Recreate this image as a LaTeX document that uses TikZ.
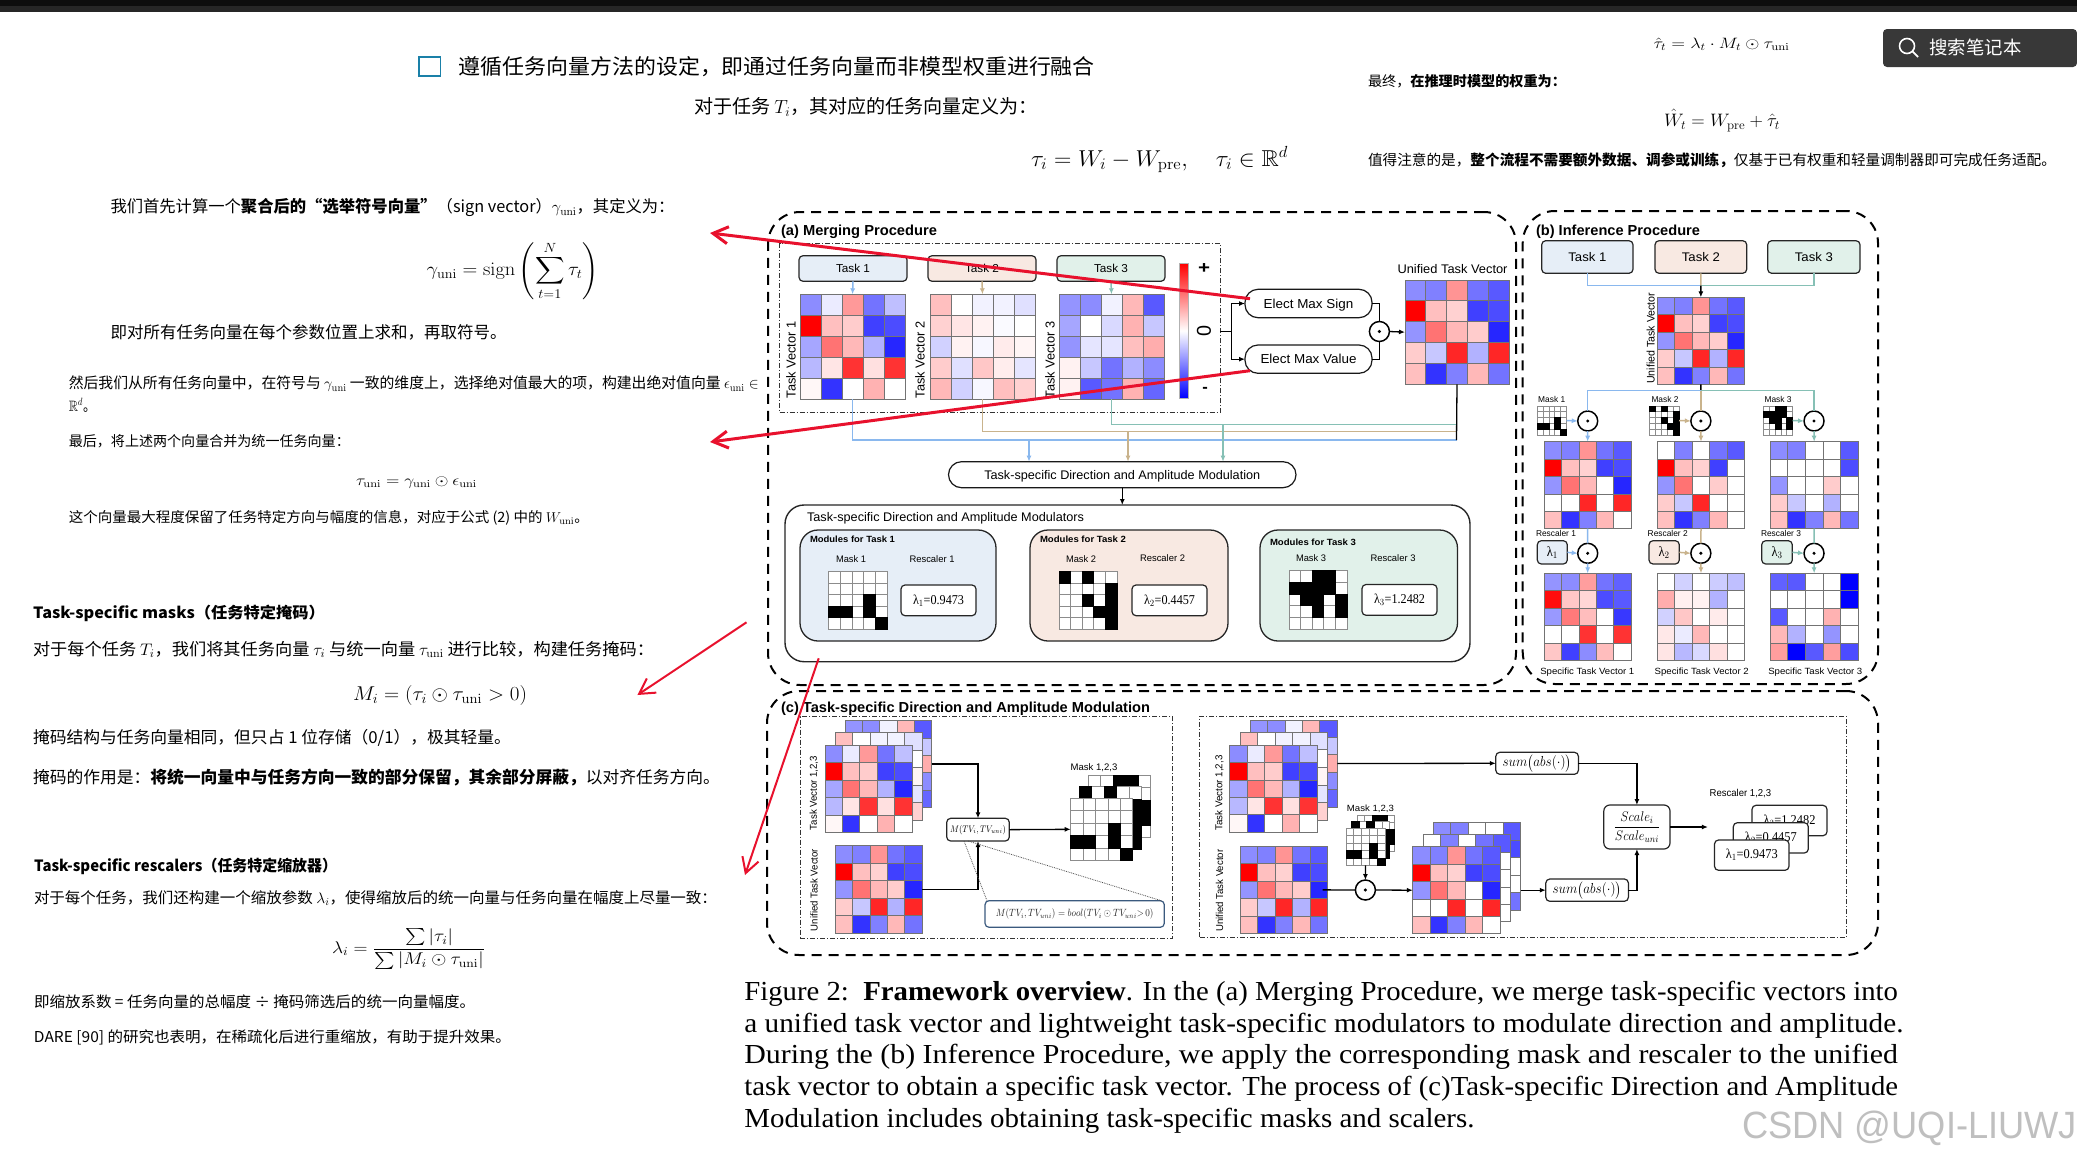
\RequirePackage{fix-cm}
\documentclass[tikz,border=0pt]{standalone}
\usepackage{amsmath,amssymb}
\usepackage[no-math]{fontspec}
\usetikzlibrary{arrows.meta,calc}
\newfontfamily\cj{Noto Sans CJK SC}
\newfontfamily\ar{Liberation Sans}
\newfontfamily\ser{Liberation Serif}
\newsavebox\tbx
\newcommand\fitb[3]{\sbox\tbx{\fontsize{#2}{#2}\selectfont #3}\pgfmathsetmacro\rw{#1/(\wd\tbx)}\scalebox{\rw}[1]{\usebox\tbx}}
% left-anchored text: name,x,ycentre,size,width,content
\newcommand\tx[6]{\pgfmathsetmacro\by{#3+0.36*#4}\node[anchor=base west,inner sep=0pt,outer sep=0pt] (#1) at (#2,\by) {\fitb{#5}{#4}{#6}};}
% centred text
\newcommand\tc[7][]{\node[inner sep=0pt,outer sep=0pt,#1] (#2) at (#3,#4) {\fitb{#6}{#5}{#7}};}
% box: name,x1,y1,x2,y2,style,text
\newcommand\bx[7]{\pgfmathsetmacro\cxx{(#2+#4)/2}\pgfmathsetmacro\cyy{(#3+#5)/2}\pgfmathsetmacro\ww{#4-#2}\pgfmathsetmacro\hh{#5-#3}\node[inner sep=0pt,outer sep=0pt,minimum width=\ww pt,minimum height=\hh pt,#6] (#1) at (\cxx,\cyy) {#7};}
% heat map
\newcommand\hm[6]{\pgfmathsetmacro\cw{(#4-#2)/5}\pgfmathsetmacro\ch{(#5-#3)/5}%
\foreach \v [count=\i from 0] in #6 {\pgfmathtruncatemacro\cc{mod(\i,5)}\pgfmathtruncatemacro\rr{\i/5}\pgfmathtruncatemacro\av{abs(\v)}%
\ifnum\v<0 \def\col{blue!\av!white}\else\def\col{red!\av!white}\fi
\draw[cellst,fill=\col] (#2+\cc*\cw,#3+\rr*\ch) rectangle ++(\cw,\ch);}%
\bx{#1}{#2}{#3}{#4}{#5}{}{}}
% binary mask: grid first, black cells on top
\newcommand\mk[6]{\pgfmathsetmacro\cw{(#4-#2)/5}\pgfmathsetmacro\ch{(#5-#3)/5}%
\foreach \v [count=\i from 0] in #6 {\pgfmathtruncatemacro\cc{mod(\i,5)}\pgfmathtruncatemacro\rr{\i/5}%
\draw[maskst,fill=white] (#2+\cc*\cw,#3+\rr*\ch) rectangle ++(\cw,\ch);}%
\foreach \v [count=\i from 0] in #6 {\pgfmathtruncatemacro\cc{mod(\i,5)}\pgfmathtruncatemacro\rr{\i/5}%
\ifnum\v=1 \draw[black,line width=0.7pt,fill=black] (#2+\cc*\cw,#3+\rr*\ch) rectangle ++(\cw,\ch);\fi}%
\bx{#1}{#2}{#3}{#4}{#5}{}{}}
\newcommand\od[3]{\node[opst] (#1) at (#2,#3) {}; \fill (#1.center) circle (1.7pt);}
\def\TVa{-45,-8,40,-55,-25,100,25,20,-75,-70,-35,55,28,-30,-85,-28,10,80,12,80,3,-80,0,30,0}
\def\TVb{25,0,-5,-5,-12,18,10,5,-2,0,-18,5,-3,8,4,20,-12,22,7,-10,28,-18,-3,25,18}
\def\TVc{-42,-45,-5,28,-65,-35,0,-15,30,-22,-42,-10,-10,25,32,5,-22,-55,-30,-45,5,-65,-55,30,-60}
\def\UV{-45,-50,42,-55,-65,100,25,18,-75,-70,-42,55,28,20,-85,20,-22,85,-30,85,25,-80,-50,28,-55}
\def\Sa{-45,-50,42,-55,-65,100,25,18,-75,-70,-42,55,28,0,-85,0,0,85,0,85,25,-80,-50,28,0}
\def\Sb{0,-50,0,-55,-65,100,25,18,-75,0,-42,55,0,20,0,20,-22,85,0,0,25,-80,-50,28,0}
\def\Sc{-45,-50,0,0,-65,0,0,0,0,-70,-42,0,0,20,0,20,-22,0,-30,0,25,-80,-50,28,-55}
\def\Fa{-42,-45,38,-55,-62,95,22,16,-70,-65,-40,52,26,0,-78,0,0,80,0,80,22,-75,-45,26,0}
\def\Fb{0,-18,0,-20,-25,32,6,5,-30,0,-18,22,0,8,0,9,-8,28,0,0,10,-28,-15,12,0}
\def\Fc{-62,-65,0,0,-100,0,0,0,0,-100,-65,0,0,30,0,28,-30,0,-42,0,38,-100,-65,38,-70}
\def\Ma{0,0,0,0,0,0,0,0,0,0,0,0,0,1,0,1,1,0,1,0,0,0,0,0,1}
\def\Mb{1,0,1,0,0,0,0,0,0,1,0,0,1,0,1,0,0,0,1,1,0,0,0,0,1}
\def\Mc{0,0,1,1,0,1,1,1,1,0,0,1,1,0,1,0,0,1,0,1,0,0,0,0,0}
\definecolor{cA}{HTML}{E6EEF7}\definecolor{cB}{HTML}{F8E9E2}\definecolor{cC}{HTML}{E1F1EA}
\definecolor{lA}{HTML}{8AB8EE}\definecolor{lB}{HTML}{C9B38C}\definecolor{lC}{HTML}{86C0B5}
\definecolor{redan}{HTML}{E8112D}\definecolor{darkb}{HTML}{3B5A7E}\definecolor{chk}{HTML}{1A80A8}
\tikzset{
 cellst/.style={draw=black!55,line width=0.8pt},
 maskst/.style={draw=black!45,line width=0.7pt},
 opst/.style={circle,draw=black,line width=1.5pt,minimum size=20pt,inner sep=0pt,outer sep=0pt,fill=white},
 outer/.style={draw=black,line width=2pt,dash pattern=on 10pt off 7pt,rounded corners=32pt},
 ddot/.style={draw=black!80,line width=1pt,dash pattern=on 5pt off 2pt on 1pt off 2pt},
 tbox/.style={draw=black!85,line width=1.2pt,rounded corners=4pt},
 pill/.style={draw=black!90,line width=1.2pt,rounded corners=13pt,fill=white,text depth=0pt},
 arr/.style={-{Latex[length=6pt,width=5pt]}},
 lnk/.style={draw=black,line width=1.3pt},
 lblue/.style={draw=lA,line width=1.5pt},
 ltan/.style={draw=lB,line width=1.5pt},
 lteal/.style={draw=lC,line width=1.5pt},
 redarr/.style={draw=redan,-{Straight Barb[length=15pt,width=17pt]}}
}
\begin{document}
\begin{tikzpicture}[x=1pt,y=-1pt]
\useasboundingbox (0,0) rectangle (2077,1159);
\fill[white] (0,0) rectangle (2077,1159);
% top bars
\fill[black!95] (0,0) rectangle (2077,6);
\fill[black!85] (0,6) rectangle (2077,12);
% search box
\bx{sb}{1883}{29}{2077}{67}{fill=black!78,rounded corners=4pt}{}
\draw[white,line width=1.6pt] (1907,46) circle (7.5pt);
\draw[white,line width=1.8pt] (1912.5,51.5) -- (1918,57);
\tx{stext}{1929.4}{47.5}{18.4}{92}{\cj\color{white}搜索笔记本}
% top texts
\bx{chkb}{419}{57}{440.5}{76}{draw=chk,line width=1.5pt}{}
\tx{t1}{458.8}{67}{21.2}{636}{\cj 遵循任务向量方法的设定，即通过任务向量而非模型权重进行融合}
\tx{t2}{694}{107}{19}{344}{\cj 对于任务 $T_i$，其对应的任务向量定义为：}
\tx{t3}{1031}{158}{23}{257}{$\tau_i = W_i - W_{\mathrm{pre}},\quad \tau_i\in\mathbb{R}^d$}
\tx{t4}{1653.5}{43}{15}{136}{$\hat\tau_t=\lambda_t\cdot M_t\odot\tau_{\mathrm{uni}}$}
\tx{t5}{1368}{81}{14}{198}{\cj 最终，\textbf{在推理时模型的权重为：}}
\tx{t6}{1664}{120}{18}{116}{$\hat W_t=W_{\mathrm{pre}}+\hat\tau_t$}
\tx{t7}{1368}{160}{14.6}{688}{\cj 值得注意的是，\textbf{整个流程不需要额外数据、调参或训练，}仅基于已有权重和轻量调制器即可完成任务适配。}
% left column
\tx{l1}{110.5}{207}{16.4}{564}{\cj 我们首先计算一个\textbf{聚合后的“选举符号向量”}（sign vector）$\gamma_{\mathrm{uni}}$，其定义为：}
\tx{l2}{426.6}{269}{19}{172}{$\displaystyle \gamma_{\mathrm{uni}}=\mathrm{sign}\left(\sum_{t=1}^{N}\tau_t\right)$}
\tx{l3}{110.5}{333}{16.5}{396}{\cj 即对所有任务向量在每个参数位置上求和，再取符号。}
\tx{l4}{68.8}{383.5}{15}{690}{\cj 然后我们从所有任务向量中，在符号与 $\gamma_{\mathrm{uni}}$ 一致的维度上，选择绝对值最大的项，构建出绝对值向量 $\epsilon_{\mathrm{uni}}\in$}
\tx{l5}{68.8}{406}{15}{27}{\cj $\mathbb{R}^d$。}
\tx{l6}{68.8}{441}{14.2}{281}{\cj 最后，将上述两个向量合并为统一任务向量：}
\tx{l7}{356}{480}{15}{121}{$\tau_{\mathrm{uni}}=\gamma_{\mathrm{uni}}\odot\epsilon_{\mathrm{uni}}$}
\tx{l8}{68.8}{517}{14.2}{520}{\cj 这个向量最大程度保留了任务特定方向与幅度的信息，对应于公式 (2) 中的 $W_{\mathrm{uni}}$。}
\tx{m1}{33}{613}{15.5}{292}{\cj\textbf{Task-specific masks（任务特定掩码）}}
\tx{m2}{33}{649}{16.7}{621}{\cj 对于每个任务 $T_i$，我们将其任务向量 $\tau_i$ 与统一向量 $\tau_{\mathrm{uni}}$ 进行比较，构建任务掩码：}
\tx{m3}{353}{693}{20}{174}{$M_i=(\tau_i\odot\tau_{\mathrm{uni}}>0)$}
\tx{m4}{33}{738}{16.5}{478}{\cj 掩码结构与任务向量相同，但只占 1 位存储（0/1），极其轻量。}
\tx{m5}{33}{777}{16.7}{687}{\cj 掩码的作用是：\textbf{将统一向量中与任务方向一致的部分保留，其余部分屏蔽，}以对齐任务方向。}
\tx{m6}{34}{866}{15.5}{303}{\cj\textbf{Task-specific rescalers（任务特定缩放器）}}
\tx{m7}{34}{898}{15.2}{683}{\cj 对于每个任务，我们还构建一个缩放参数 $\lambda_i$，使得缩放后的统一向量与任务向量在幅度上尽量一致：}
\tx{m8}{332}{947}{17}{153}{$\displaystyle \lambda_i=\frac{\sum|\tau_i|}{\sum|M_i\odot\tau_{\mathrm{uni}}|}$}
\tx{m9}{34}{1002}{15}{441}{\cj 即缩放系数 = 任务向量的总幅度 ÷ 掩码筛选后的统一向量幅度。}
\tx{m10}{34}{1037.5}{15}{477}{\cj DARE [90] 的研究也表明，在稀疏化后进行重缩放，有助于提升效果。}
% ---------- (a)
\bx{pa}{768}{212}{1516}{685}{outer}{}
\tx{ta}{781}{230}{14.5}{156}{\ar\textbf{(a) Merging Procedure}}
\bx{ra}{779.5}{243.3}{1220}{412.7}{ddot}{}
\bx{ta1}{799}{255.7}{907}{281.3}{tbox,fill=cA}{\fitb{34}{11.5}{\ar Task 1}}
\bx{ta2}{928}{255.7}{1036}{281.3}{tbox,fill=cB}{\fitb{34}{11.5}{\ar Task 2}}
\bx{ta3}{1057}{255.7}{1165}{281.3}{tbox,fill=cC}{\fitb{34}{11.5}{\ar Task 3}}
\hm{va1}{800}{294.3}{905}{399.3}{\TVa}
\hm{va2}{930}{294.3}{1035}{399.3}{\TVb}
\hm{va3}{1059}{294.3}{1164}{399.3}{\TVc}
\tc[rotate=90]{la1}{791}{360}{13}{76.7}{\ar Task Vector 1}
\tc[rotate=90]{la2}{920}{360}{13}{76.7}{\ar Task Vector 2}
\tc[rotate=90]{la3}{1050}{360}{13}{76.7}{\ar Task Vector 3}
\draw[lblue,arr] (ta1.south) -- (va1.north);
\draw[ltan,arr] (ta2.south) -- (va2.north);
\draw[lteal,arr] (ta3.south) -- (va3.north);
\bx{cbar}{1179}{263.3}{1188}{398.3}{top color=red,bottom color=blue,middle color=white,draw=black!30,line width=0.4pt}{}
\tc{cp}{1204}{269}{17}{12}{\ar\textbf{+}}
\tc[rotate=90]{cz}{1204}{331}{20}{11}{\ar 0}
\tc{cm0}{1205}{390}{16}{5.5}{\ar\textbf{-}}
\bx{es}{1245}{289.3}{1372}{317.7}{pill}{\fitb{89.6}{13}{\ar Elect Max Sign}}
\bx{ev}{1245}{345}{1372}{373.3}{pill}{\fitb{96}{13}{\ar Elect Max Value}}
\od{oa}{1379.4}{331.5}
\hm{ua}{1405}{280}{1509}{384.3}{\UV}
\tc{lu}{1452.5}{269}{12.5}{110}{\ar Unified Task Vector}
\coordinate (ftail) at (1220,331.3);
\coordinate (fork) at (1231.6,331.3);
\draw[lnk] (ftail) -- (fork);
\draw[lnk,arr] (fork) |- (es.west);
\draw[lnk,arr] (fork) |- (ev.west);
\draw[lnk] (es.east) -| (oa.north);
\draw[lnk] (ev.east) -| (oa.south);
\draw[lnk,arr] (oa.east) -- (ua.west);
\bx{mo}{948.5}{461.7}{1296}{487.7}{pill}{\fitb{276}{12.5}{\ar Task-specific Direction and Amplitude Modulation}}
\coordinate (cb) at (1456.5,440);
\coordinate (ct) at (1456.5,431.7);
\coordinate (cg) at (1456.5,424.3);
\coordinate (db) at (1029,440);
\coordinate (dt) at (1128,431.7);
\coordinate (dg) at (1223,424.3);
\draw[lblue] (va1.south) |- (cb);
\draw[ltan] (va2.south) |- (ct);
\draw[lteal] (va3.south) |- (cg);
\draw[lblue,arr] (db) -- (db |- mo.north);
\draw[ltan,arr] (dt) -- (dt |- mo.north);
\draw[lteal,arr] (dg) -- (dg |- mo.north);
\draw[lnk] (ua.south) -- (cb);
\bx{mb}{785}{505}{1470}{661.7}{draw=black!85,line width=1.4pt,rounded corners=19pt}{}
\draw[lnk,arr] (mo.south) -- (mb.north -| mo.south);
\tx{mbt}{807}{516.5}{12.5}{277}{\ar Task-specific Direction and Amplitude Modulators}
\bx{b1}{800}{530}{996}{641}{draw=black!85,line width=1.3pt,rounded corners=18pt,fill=cA}{}
\bx{b2}{1030}{530}{1228}{641}{draw=black!85,line width=1.3pt,rounded corners=18pt,fill=cB}{}
\bx{b3}{1260}{530}{1457.5}{641}{draw=black!85,line width=1.3pt,rounded corners=18pt,fill=cC}{}
\tx{b1t}{810}{539}{9}{85}{\ar\textbf{Modules for Task 1}}
\tx{b2t}{1040}{539}{9}{86}{\ar\textbf{Modules for Task 2}}
\tx{b3t}{1270}{542}{9}{86}{\ar\textbf{Modules for Task 3}}
\tc{b1m}{851}{559}{9.5}{30}{\ar Mask 1}
\tc{b1r}{932}{559}{9.5}{45}{\ar Rescaler 1}
\tc{b2m}{1081}{559}{9.5}{30}{\ar Mask 2}
\tc{b2r}{1162.5}{557.7}{9.5}{45}{\ar Rescaler 2}
\tc{b3m}{1311}{558}{9.5}{30}{\ar Mask 3}
\tc{b3r}{1393}{558}{9.5}{45}{\ar Rescaler 3}
\mk{k1}{828.7}{571.7}{887}{629.3}{\Ma}
\mk{k2}{1059}{571.7}{1117}{629.3}{\Mb}
\mk{k3}{1289}{570.7}{1347}{629}{\Mc}
\bx{q1}{901}{585}{976}{615.7}{tbox,fill=white}{\fitb{51}{13.5}{\ser λ$_1$=0.9473}}
\bx{q2}{1132}{585}{1207}{615.7}{tbox,fill=white}{\fitb{51}{13.5}{\ser λ$_2$=0.4457}}
\bx{q3}{1362}{584.5}{1437}{615.3}{tbox,fill=white}{\fitb{51}{13.5}{\ser λ$_3$=1.2482}}
% ---------- (b)
\bx{pb}{1522.7}{211}{1878}{684}{outer}{}
\tx{tb}{1536}{230}{14.5}{164}{\ar\textbf{(b) Inference Procedure}}
\bx{bt1}{1541.7}{240.7}{1633}{273.3}{tbox,fill=cA}{\fitb{38}{12.5}{\ar Task 1}}
\bx{bt2}{1655}{240.7}{1746.7}{273.3}{tbox,fill=cB}{\fitb{38}{12.5}{\ar Task 2}}
\bx{bt3}{1767.7}{240.7}{1860}{273.3}{tbox,fill=cC}{\fitb{38}{12.5}{\ar Task 3}}
\hm{bu}{1657}{297.3}{1744.7}{384.3}{\UV}
\tc[rotate=90]{blu}{1650.7}{338.3}{11}{91}{\ar Unified Task Vector}
\coordinate (bj) at (1700.85,285.7);
\coordinate (bk) at (1700.85,390.7);
\draw[lblue] (bt1.south) |- (bj);
\draw[lteal] (bt3.south) |- (bj);
\draw[ltan] (bt2.south) -- (bj);
\draw[lnk,arr] (bj) -- (bu.north);
\draw[lnk] (bu.south) -- (bk);
\od{bo1}{1587.7}{421}
\od{bo2}{1700.85}{421}
\od{bo3}{1814}{421}
\draw[lblue] (bk) -| (bo1.north);
\draw[lteal] (bk) -| (bo3.north);
\draw[ltan] (bk) -- (bo2.north);
\mk{bm1}{1537}{406}{1566.7}{435}{\Ma}
\mk{bm2}{1649.7}{406}{1679}{435}{\Mb}
\mk{bm3}{1763.3}{406}{1792.7}{435}{\Mc}
\tc{bml1}{1551.7}{399.3}{8.5}{27}{\ar Mask 1}
\tc{bml2}{1665}{399.3}{8.5}{27}{\ar Mask 2}
\tc{bml3}{1778}{399.3}{8.5}{27}{\ar Mask 3}
\draw[lblue,arr] (bm1.east) -- (bo1.west);
\draw[ltan,arr] (bm2.east) -- (bo2.west);
\draw[lteal,arr] (bm3.east) -- (bo3.west);
\hm{bs1}{1544}{441.7}{1631.3}{528.7}{\Sa}
\hm{bs2}{1657.3}{441.7}{1744.7}{528.7}{\Sb}
\hm{bs3}{1770.3}{441.7}{1858}{528.7}{\Sc}
\draw[lblue,arr] (bo1.south) -- (bs1.north);
\draw[ltan,arr] (bo2.south) -- (bs2.north);
\draw[lteal,arr] (bo3.south) -- (bs3.north);
\od{br1}{1587.7}{553.3}
\od{br2}{1700.85}{553.3}
\od{br3}{1814}{553.3}
\draw[lblue] (bs1.south) -- (br1.north);
\draw[ltan] (bs2.south) -- (br2.north);
\draw[lteal] (bs3.south) -- (br3.north);
\tc{brl1}{1556}{533.7}{8.5}{40}{\ar Rescaler 1}
\tc{brl2}{1667.7}{533.7}{8.5}{40}{\ar Rescaler 2}
\tc{brl3}{1781}{533.7}{8.5}{40}{\ar Rescaler 3}
\bx{bl1}{1537.3}{540.7}{1567.3}{564}{tbox,fill=cA}{\fitb{11}{14}{\ser λ$_1$}}
\bx{bl2}{1649}{540.7}{1679.3}{564}{tbox,fill=cB}{\fitb{11}{14}{\ser λ$_2$}}
\bx{bl3}{1761.7}{540.7}{1792.3}{564}{tbox,fill=cC}{\fitb{11}{14}{\ser λ$_3$}}
\draw[lblue,arr] (bl1.east) -- (br1.west);
\draw[ltan,arr] (bl2.east) -- (br2.west);
\draw[lteal,arr] (bl3.east) -- (br3.west);
\hm{bf1}{1544}{573.3}{1631.3}{660.3}{\Fa}
\hm{bf2}{1657.3}{573.3}{1744.7}{660.3}{\Fb}
\hm{bf3}{1770.3}{573.3}{1858}{660.3}{\Fc}
\draw[lblue,arr] (br1.south) -- (bf1.north);
\draw[ltan,arr] (br2.south) -- (bf2.north);
\draw[lteal,arr] (br3.south) -- (bf3.north);
\tc{bsl1}{1587.3}{672}{9}{94}{\ar Specific Task Vector 1}
\tc{bsl2}{1701.7}{672}{9}{94}{\ar Specific Task Vector 2}
\tc{bsl3}{1815.3}{672}{9}{94}{\ar Specific Task Vector 3}
% ---------- (c)
\bx{pc}{767}{691}{1878}{955}{outer}{}
\tx{tc1}{781}{707}{14.5}{369}{\ar\textbf{(c) Task-specific Direction and Amplitude Modulation}}
\bx{rc1}{800}{716.7}{1172.7}{938.3}{ddot}{}
\hm{cc3}{845}{720.7}{931.7}{807.3}{\TVc}
\hm{cc2}{835}{732.7}{922.3}{820}{\TVb}
\hm{cc1}{825}{745.3}{912}{832.3}{\TVa}
\hm{cu}{835}{845.7}{922.3}{933.3}{\UV}
\tc[rotate=90]{cl1}{814}{793}{10}{74}{\ar Task Vector 1,2,3}
\tc[rotate=90]{cl2}{814}{890}{10}{82}{\ar Unified Task Vector}
\bx{cm}{946.7}{818.3}{1009.3}{841}{tbox,fill=white}{\fitb{55.7}{9.5}{$M(TV_i,TV_{uni})$}}
\mk{ck3}{1088.3}{775.3}{1150.7}{837.3}{\Mc}
\mk{ck2}{1079.3}{786.7}{1141.3}{849}{\Mb}
\mk{ck1}{1070.7}{798.3}{1132.7}{860.3}{\Ma}
\tc{ckl}{1094}{767.7}{9.5}{46.7}{\ar Mask 1,2,3}
\draw[lnk,arr] (cc3.east) -| (cm.north);
\draw[lnk,arr] (cu.east) -| (cm.south);
\draw[lnk,arr] (cm.east) -- (ck1.west);
\bx{cf}{985}{900.7}{1164.3}{927.3}{draw=darkb,line width=1.2pt,rounded corners=4pt,fill=white}{\fitb{157.7}{10.5}{\color{black!85}$M(TV_i,TV_{uni})=bool(TV_i\odot TV_{uni}{>}\,0)$}}
\draw[black!70,line width=0.8pt,densely dotted] ([xshift=-14pt]cm.south) -- ([xshift=2pt]cf.north west);
\draw[black!70,line width=0.8pt,densely dotted] ([xshift=-10pt]cm.south) -- ([xshift=-3pt]cf.north east);
% right part
\bx{rc2}{1199.8}{716}{1846}{937.7}{ddot}{}
\hm{rt3}{1250}{720}{1337.3}{807}{\TVc}
\hm{rt2}{1240}{732.3}{1327.5}{820}{\TVb}
\hm{rt1}{1229.7}{745}{1317.2}{832.3}{\TVa}
\hm{ru}{1240}{846}{1327.5}{933.7}{\UV}
\tc[rotate=90]{rl1}{1219.5}{793}{10}{75}{\ar Task Vector 1,2,3}
\tc[rotate=90]{rl2}{1219.5}{890.7}{10}{82}{\ar Unified Task Vector}
\bx{sa}{1495.8}{752.3}{1578.4}{774.3}{tbox,fill=white}{\fitb{69}{14.5}{$sum\bigl(abs(\cdot)\bigr)$}}
\bx{sbb}{1545.8}{879}{1628.4}{901.3}{tbox,fill=white}{\fitb{69}{14.5}{$sum\bigl(abs(\cdot)\bigr)$}}
\bx{sc}{1603.8}{805}{1670}{849}{draw=black!85,line width=1.2pt,rounded corners=6pt,fill=white}{\fitb{46}{14}{$\displaystyle\frac{Scale_i}{Scale_{uni}}$}}
\coordinate (sout) at (1707.9,827);
\draw[lnk,arr] (rt3.east) -- (sa.west);
\draw[lnk,arr] (sa.east) -| (sc.north);
\draw[lnk,arr] (sbb.east) -| (sc.south);
\draw[lnk,arr] (sc.east) -- (sout);
\tc{rsl}{1740.4}{794}{10}{61.6}{\ar Rescaler 1,2,3}
\bx{rq3}{1752}{805.3}{1827}{835.7}{tbox,fill=white}{\fitb{52}{13.5}{\ser λ$_3$=1.2482}}
\bx{rq2}{1733.3}{822.7}{1808.3}{853}{tbox,fill=white}{\fitb{52}{13.5}{\ser λ$_2$=0.4457}}
\bx{rq1}{1714.5}{840}{1789}{870.3}{tbox,fill=white}{\fitb{52}{13.5}{\ser λ$_1$=0.9473}}
\mk{rk3}{1357}{815}{1394.5}{851.7}{\Mc}
\mk{rk2}{1351.5}{821.5}{1389.5}{858.5}{\Mb}
\mk{rk1}{1346}{828.3}{1385}{865.3}{\Ma}
\tc{rkl}{1370.4}{808.7}{9}{47}{\ar Mask 1,2,3}
\od{ro}{1365.4}{890}
\draw[lnk,arr] (rk1.south) -- (ro.north);
\hm{rs3}{1433.3}{822.7}{1520.8}{910}{\Sc}
\hm{rs2}{1423}{834.7}{1510.5}{921.7}{\Sb}
\hm{rs1}{1412.8}{846.7}{1500.3}{933.7}{\Sa}
\draw[lnk] ([xshift=-5pt]ru.east) -- (ro.west);
\draw[lnk,arr] (ro.east) -- (rs1.west);
\draw[lnk,arr] (rs3.east |- sbb.west) -- (sbb.west);
% caption
\tx{c1}{744.4}{991}{27.5}{1153.6}{\ser Figure 2:\ \ \textbf{Framework overview}. In the (a) Merging Procedure, we merge task-specific vectors into}
\tx{c2}{744.4}{1023}{27.5}{1159}{\ser a unified task vector and lightweight task-specific modulators to modulate direction and amplitude.}
\tx{c3}{744.4}{1054}{27.5}{1153.6}{\ser During the (b) Inference Procedure, we apply the corresponding mask and rescaler to the unified}
\tx{c4}{744.4}{1086}{27.5}{1153.6}{\ser task vector to obtain a specific task vector. The process of (c)Task-specific Direction and Amplitude}
\tx{c5}{744.4}{1118}{27.5}{730}{\ser Modulation includes obtaining task-specific masks and scalers.}
% red annotation arrows
\coordinate (r1s) at (1250,298.7); \coordinate (r1t) at (710,233);
\coordinate (r2s) at (1250,370.7); \coordinate (r2t) at (710,442);
\coordinate (r3s) at (746.5,622.3); \coordinate (r3t) at (637.4,695);
\coordinate (r4s) at (818.7,658.3); \coordinate (r4t) at (745,875);
\draw[redarr,line width=3pt] (r1s) -- (r1t);
\draw[redarr,line width=3pt] (r2s) -- (r2t);
\draw[redarr,line width=2pt] (r3s) -- (r3t);
\draw[redarr,line width=2pt] (r4s) -- (r4t);
% watermark
\tx{wm}{1742}{1125}{38}{335}{\ar\color{black!25}CSDN @UQI-LIUWJ}
\end{tikzpicture}
\end{document}
